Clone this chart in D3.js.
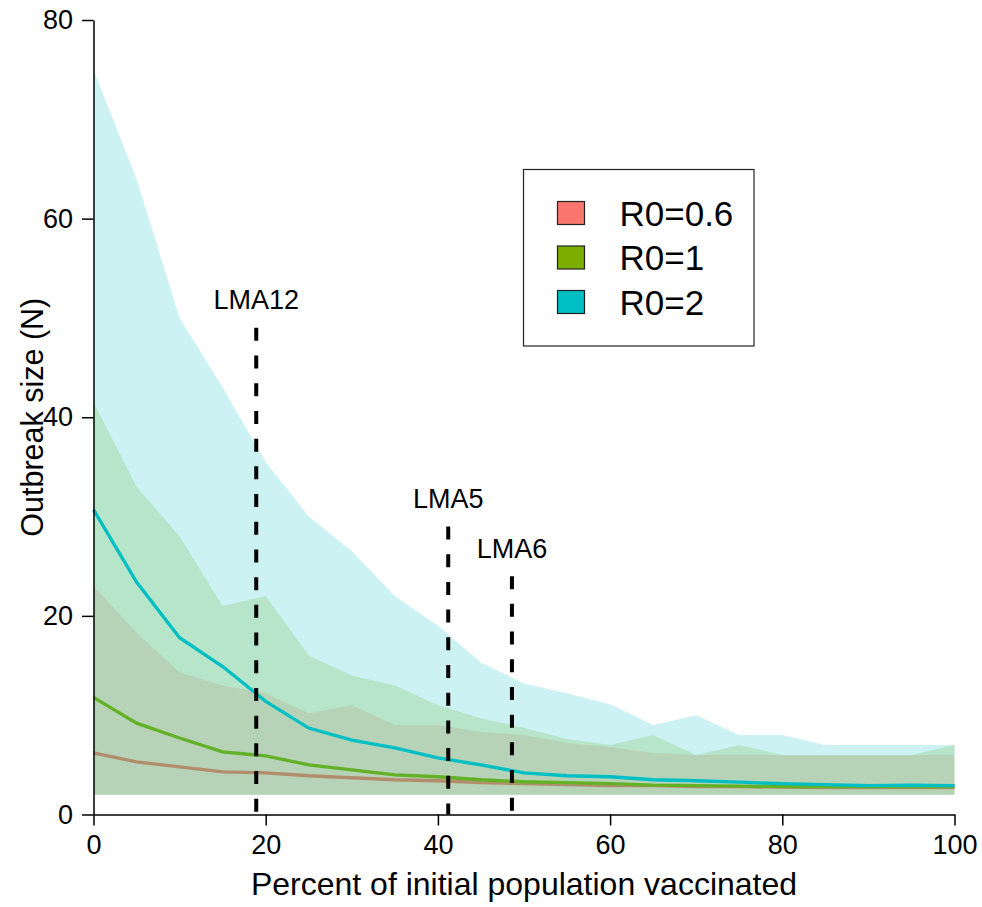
<!DOCTYPE html>
<html>
<head>
<meta charset="utf-8">
<script src="https://cdn.jsdelivr.net/npm/d3@7"></script>
<style>
  body { margin: 0; background: #fff; }
  svg { display: block; font-family: "Liberation Sans", Arial, sans-serif; }
</style>
</head>
<body>
<div id="chart"></div>
<script>
// percent of initial population vaccinated
const pct = [0, 5, 10, 15, 20, 25, 30, 35, 40, 45, 50, 55, 60, 65, 70, 75, 80, 85, 90, 95, 100];

// R0 = 0.6
const r06Mean = [6.2, 5.3, 4.8, 4.3, 4.2, 3.9, 3.7, 3.5, 3.4, 3.2, 3.1, 3.0, 2.9, 2.9, 2.8, 2.8, 2.75, 2.7, 2.7, 2.7, 2.7];
const r06Upper = [23, 18.3, 14.3, 13, 12.2, 10.2, 11, 9, 9, 8.3, 8, 7.2, 6.8, 6.2, 6, 6, 6, 6, 6, 6, 6];
const r06Lower = [2, 2, 2, 2, 2, 2, 2, 2, 2, 2, 2, 2, 2, 2, 2, 2, 2, 2, 2, 2, 2];

// R0 = 1
const r1Mean = [11.8, 9.2, 7.7, 6.3, 5.9, 5.0, 4.5, 4.0, 3.8, 3.5, 3.3, 3.2, 3.1, 2.95, 2.9, 2.85, 2.8, 2.8, 2.8, 2.8, 2.8];
const r1Upper = [41.5, 33, 28, 21, 22, 16, 14, 13, 11, 9.7, 8.7, 7.6, 7, 8, 6, 7, 6, 6, 6, 6, 7];
const r1Lower = [2, 2, 2, 2, 2, 2, 2, 2, 2, 2, 2, 2, 2, 2, 2, 2, 2, 2, 2, 2, 2];

// R0 = 2
const r2Mean = [30.7, 23.4, 17.8, 14.9, 11.4, 8.7, 7.5, 6.7, 5.7, 5.0, 4.2, 3.9, 3.8, 3.5, 3.4, 3.25, 3.1, 3.0, 2.9, 2.95, 2.9];
const r2Upper = [75, 64, 50, 43, 35.5, 30, 26.5, 22, 19, 15.3, 13.2, 12.2, 11.1, 9, 10, 8, 8, 7, 7, 7, 7];
const r2Lower = [2, 2, 2, 2, 2, 2, 2, 2, 2, 2, 2, 2, 2, 2, 2, 2, 2, 2, 2, 2, 2];

const seriesNames = ["R0=0.6", "R0=1", "R0=2"];
const seriesColors = ["#F8766D", "#7CAE00", "#00BFC4"];

// vaccination coverage of the LMAs
const lmaNames = ["LMA12", "LMA5", "LMA6"];
const lmaPct = [18.9, 41.2, 48.6];
const lmaTop = [49, 29, 24];

const xTicks = [0, 20, 40, 60, 80, 100];
const yTicks = [0, 20, 40, 60, 80];

const W = 982, H = 907;
const margin = { top: 20, right: 27.5, bottom: 92.5, left: 93.5 };
const width = W - margin.left - margin.right;
const height = H - margin.top - margin.bottom;

const svg = d3.select("#chart").append("svg")
  .attr("width", W)
  .attr("height", H);

const g = svg.append("g")
  .attr("transform", `translate(${margin.left},${margin.top})`);

const x = d3.scaleLinear().domain([0, 100]).range([0, width]);
const y = d3.scaleLinear().domain([0, 80]).range([height, 0]);

const series = [
  { mean: r06Mean, upper: r06Upper, lower: r06Lower },
  { mean: r1Mean, upper: r1Upper, lower: r1Lower },
  { mean: r2Mean, upper: r2Upper, lower: r2Lower }
];

const area = d3.area()
  .x(d => x(d.p))
  .y0(d => y(d.lo))
  .y1(d => y(d.hi));

const line = d3.line()
  .x(d => x(d.p))
  .y(d => y(d.m));

// each band then its line, so later bands tint the earlier lines
series.forEach((s, i) => {
  const rows = pct.map((p, j) => ({ p, m: s.mean[j], hi: s.upper[j], lo: s.lower[j] }));
  g.append("path")
    .datum(rows)
    .attr("d", area)
    .attr("fill", seriesColors[i])
    .attr("fill-opacity", 0.2);
  g.append("path")
    .datum(rows)
    .attr("d", line)
    .attr("fill", "none")
    .attr("stroke", seriesColors[i])
    .attr("stroke-width", 3.3);
});

// LMA markers
const lma = g.selectAll(".lma")
  .data(lmaNames.map((name, i) => ({ name, p: lmaPct[i], top: lmaTop[i] })))
  .enter().append("g")
  .attr("class", "lma");

lma.append("line")
  .attr("x1", d => x(d.p))
  .attr("x2", d => x(d.p))
  .attr("y1", d => y(d.top))
  .attr("y2", y(0))
  .attr("stroke", "#000")
  .attr("stroke-width", 4)
  .attr("stroke-dasharray", "13,14.7");

lma.append("text")
  .attr("x", d => x(d.p))
  .attr("y", d => y(d.top) - 18.5)
  .attr("text-anchor", "middle")
  .attr("font-size", 27)
  .text(d => d.name);

// axes, R style
const xAxis = g.append("g")
  .attr("transform", `translate(0,${height})`)
  .call(d3.axisBottom(x).tickValues(xTicks).tickSize(11).tickPadding(8).tickSizeOuter(0));

const yAxis = g.append("g")
  .call(d3.axisLeft(y).tickValues(yTicks).tickSize(11.5).tickPadding(9).tickSizeOuter(0));

[xAxis, yAxis].forEach(a => {
  a.select(".domain").attr("stroke", "#000").attr("stroke-width", 1.5);
  a.selectAll(".tick line").attr("stroke", "#000").attr("stroke-width", 1.5);
  a.selectAll(".tick text")
    .attr("font-size", 27)
    .attr("font-family", "Liberation Sans, Arial, sans-serif")
    .attr("fill", "#000");
});
xAxis.selectAll(".tick text").attr("dy", "0.76em");

svg.append("text")
  .attr("x", margin.left + width / 2)
  .attr("y", 895)
  .attr("text-anchor", "middle")
  .attr("font-size", 32)
  .text("Percent of initial population vaccinated");

svg.append("text")
  .attr("transform", `translate(43,${margin.top + height / 2}) rotate(-90)`)
  .attr("text-anchor", "middle")
  .attr("font-size", 30.5)
  .text("Outbreak size (N)");

// legend
const legend = svg.append("g")
  .attr("transform", "translate(523.5,169.5)");

legend.append("rect")
  .attr("width", 230.5)
  .attr("height", 176.5)
  .attr("fill", "#fff")
  .attr("stroke", "#222")
  .attr("stroke-width", 1.2);

const item = legend.selectAll(".item")
  .data(seriesNames)
  .enter().append("g")
  .attr("class", "item")
  .attr("transform", (d, i) => `translate(0,${43.5 + i * 44.5})`);

item.append("rect")
  .attr("x", 34)
  .attr("y", -11.5)
  .attr("width", 27)
  .attr("height", 23)
  .attr("fill", (d, i) => seriesColors[i])
  .attr("stroke", "#222")
  .attr("stroke-width", 1.2);

item.append("text")
  .attr("x", 96)
  .attr("y", 12.5)
  .attr("font-size", 35)
  .text(d => d);
</script>
</body>
</html>
